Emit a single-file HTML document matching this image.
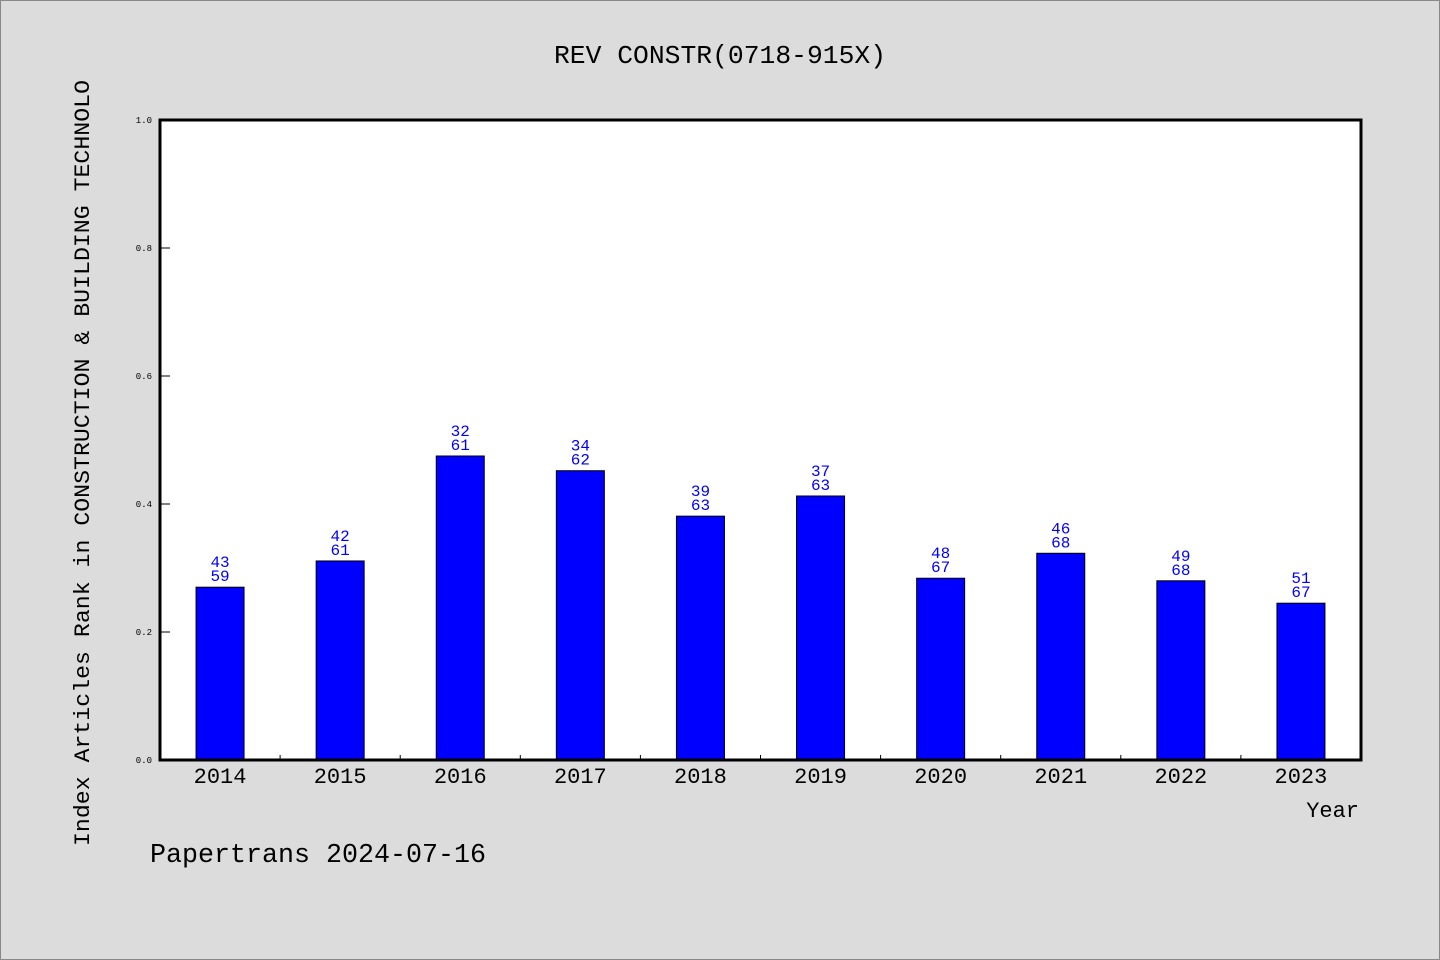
<!DOCTYPE html>
<html><head><meta charset="utf-8"><style>
body{margin:0;background:#dcdcdc}
svg{display:block}
text{font-family:"Liberation Mono","WenQuanYi Zen Hei",monospace}
</style></head><body>
<svg width="1440" height="960">
<rect x="0.5" y="0.5" width="1439" height="959" fill="#dcdcdc" stroke="#888"/>
<text x="720" y="63" text-anchor="middle" font-size="26" textLength="332" lengthAdjust="spacingAndGlyphs">REV CONSTR(0718-915X)</text>
<rect x="160" y="120" width="1201" height="640" fill="#fff"/>
<g id="marks"></g>
<rect x="160" y="120" width="1201" height="640" fill="none" stroke="#000" stroke-width="3"/>
<text transform="translate(89,463) rotate(-90)" text-anchor="middle" font-size="22" textLength="766" lengthAdjust="spacingAndGlyphs">Index Articles Rank in CONSTRUCTION &amp; BUILDING TECHNOLO</text>
<text x="1359" y="817" text-anchor="end" font-size="22">Year</text>
<text x="150" y="862" font-size="27" textLength="336" lengthAdjust="spacingAndGlyphs">Papertrans 2024-07-16</text>
</svg>
<script>
const years=["2014","2015","2016","2017","2018","2019","2020","2021","2022","2023"];
const values=[0.270,0.311,0.475,0.452,0.381,0.4125,0.284,0.323,0.280,0.245];
const rankTop=["43","42","32","34","39","37","48","46","49","51"];
const rankBottom=["59","61","61","62","63","63","67","68","68","67"];
const yTicks=[0,0.2,0.4,0.6,0.8,1.0];
const X0=160,W=1201,Y0=760,H=640;
const y=v=>Y0-v*H;
const slot=W/years.length;
const xc=i=>X0+slot*(i+0.5);
const NS="http://www.w3.org/2000/svg";
const g=document.getElementById('marks');
function mk(t,a,txt){const e=document.createElementNS(NS,t);for(const k in a)e.setAttribute(k,a[k]);if(txt!==undefined)e.textContent=txt;g.appendChild(e);return e;}
yTicks.forEach(v=>{
 const l=mk('line',{x1:X0,x2:X0+10,y1:y(v),y2:y(v),stroke:'#000'});
 
 
 const t=mk('text',{x:X0-8,y:y(v)+3,'text-anchor':'end','font-size':9},v.toFixed(1));
 
 
});
for(let i=1;i<years.length;i++){
 const l=mk('line',{x1:X0+slot*i,x2:X0+slot*i,y1:Y0,y2:Y0-5,stroke:'#000'});
 
 
}
years.forEach((yr,i)=>{
 const bw=48,top=y(values[i]);
 const r=mk('rect',{x:xc(i)-bw/2,y:top,width:bw,height:Y0-top,fill:'#0000ff',stroke:'#000','stroke-width':1});
 
 
 const a=mk('text',{x:xc(i),y:top-20,'text-anchor':'middle','font-size':16,fill:'#0000ff'},rankTop[i]);
 
 
 const b=mk('text',{x:xc(i),y:top-6,'text-anchor':'middle','font-size':16,fill:'#0000ff'},rankBottom[i]);
 
 
 const t=mk('text',{x:xc(i),y:783,'text-anchor':'middle','font-size':22},yr);
 
 
});
</script>
</body></html>
